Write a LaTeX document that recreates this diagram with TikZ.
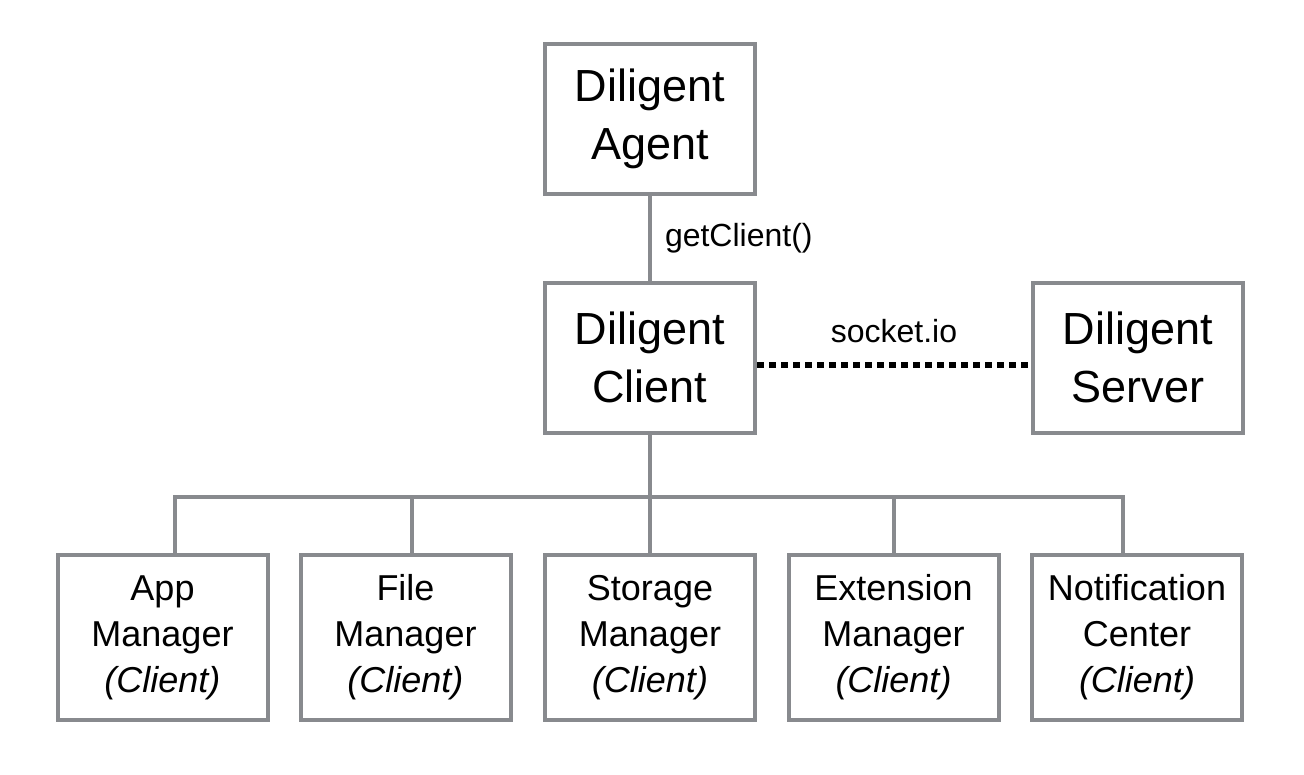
\documentclass[tikz,border=0pt]{standalone}
\usepackage{fontspec}
\setmainfont{Liberation Sans}
\definecolor{linegray}{RGB}{136,138,142}

\tikzset{
  box/.style={draw=linegray, line width=4pt, minimum width=210pt, align=center, inner sep=0pt},
  bigbox/.style={box, minimum height=150pt, font=\fontsize{45}{58}\selectfont},
  subbox/.style={box, minimum height=165pt, font=\fontsize{36}{46}\selectfont},
  link/.style={draw=linegray, line width=4pt},
  lbl/.style={inner sep=0pt, font=\fontsize{32}{38}\selectfont},
}

\begin{document}
\begin{tikzpicture}[x=1pt,y=-1pt]
        \useasboundingbox (0,0) rectangle (1304,774);
        % top row
        \node[bigbox] (agent) at (650,118.5) {Diligent\\Agent};
        \node[bigbox] (client) at (650,357.5) {Diligent\\Client};
        \node[bigbox] (server) at (1138,357.5) {Diligent\\Server};
        % managers
        \node[subbox] (app) at (162.5,637.5) {App\\Manager\\\textit{(Client)}};
        \node[subbox] (file) at (405.5,637.5) {File\\Manager\\\textit{(Client)}};
        \node[subbox] (storage) at (650,637.5) {Storage\\Manager\\\textit{(Client)}};
        \node[subbox] (ext) at (893.5,637.5) {Extension\\Manager\\\textit{(Client)}};
        \node[subbox] (notif) at (1137,637.5) {Notification\\Center\\\textit{(Client)}};
        % connectors
        \draw[link] (agent) -- node[lbl, right=13pt]{getClient()} (client);
        \draw[line width=6pt, dash pattern=on 7pt off 5pt] ([yshift=-7pt]client.east) -- node[lbl, above=19pt]{socket.io} ([yshift=-7pt]server.west);
        \coordinate (busL) at (175,497);
        \coordinate (busR) at (1123,497);
        \coordinate (fileTop) at (412,497);
        \coordinate (extTop) at (894,497);
        \draw[link] (client) -- (storage);
        \draw[link] (app.north -| busL) -- (busL) -- (busR) -- (notif.north -| busR);
        \draw[link] (fileTop) -- (fileTop |- file.north);
        \draw[link] (extTop) -- (extTop |- ext.north);
    \end{tikzpicture}
\end{document}
